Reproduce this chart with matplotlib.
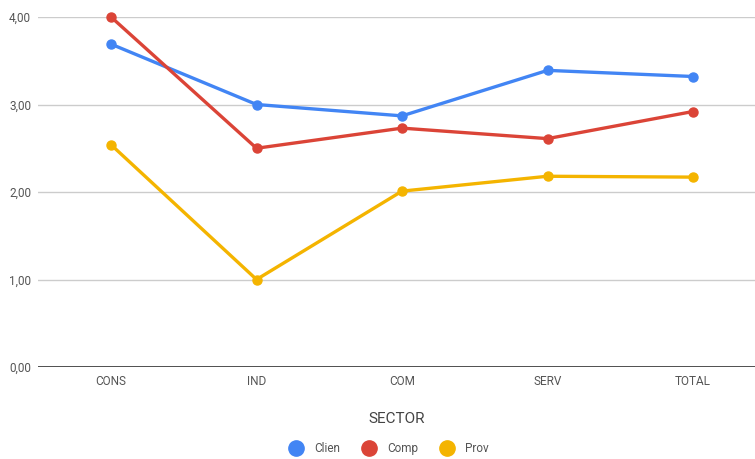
import matplotlib
matplotlib.use("Agg")
import matplotlib.pyplot as plt
from matplotlib.lines import Line2D

categories = ["CONS", "IND", "COM", "SERV", "TOTAL"]
clien = [3.69, 3.00, 2.87, 3.39, 3.32]
comp = [4.00, 2.50, 2.73, 2.61, 2.92]
prov = [2.54, 1.00, 2.01, 2.18, 2.17]
yticks = [0, 1, 2, 3, 4]
ytick_labels = ["0,00", "1,00", "2,00", "3,00", "4,00"]

series = [("Clien", clien, "#4285f4"), ("Comp", comp, "#db4437"), ("Prov", prov, "#f4b400")]

plt.rcParams['font.family'] = ['Roboto', 'DejaVu Sans']
fig = plt.figure(figsize=(7.55, 4.59), dpi=100)
ax = fig.add_axes([38/755, 92/459, 717/755, 350/459])

x = list(range(len(categories)))
for name, vals, col in series:
    ax.plot(x, vals, color=col, lw=2.4, marker='o', ms=6.5, label=name,
            solid_capstyle='round', zorder=3, clip_on=False)

ax.set_xlim(-0.502, 4.426)
ax.set_ylim(0, 4)
ax.set_yticks(yticks)
ax.set_yticklabels(ytick_labels)
ax.set_xticks(x)
ax.set_xticklabels(categories)
for s in ax.spines.values():
    s.set_visible(False)
ax.grid(axis='y', color='#cccccc', lw=1)
ax.axhline(0, color='#333333', lw=1.2, zorder=2)
ax.tick_params(axis='both', length=0, labelsize=8.5, labelcolor='#555555')
ax.tick_params(axis='y', pad=5)
ax.tick_params(axis='x', pad=6)
ax.set_xlabel("SECTOR", fontsize=11, color='#444444', labelpad=17)

handles = [Line2D([], [], marker='o', ls='none', color=c, ms=11) for _, _, c in series]
fig.legend(handles, [n for n, _, _ in series], loc='center', bbox_to_anchor=(0.512, 0.022),
           ncol=3, frameon=False, fontsize=8.5, handletextpad=0.5, columnspacing=1.5,
           labelcolor='#555555')

fig.savefig("out.png", dpi=100)
